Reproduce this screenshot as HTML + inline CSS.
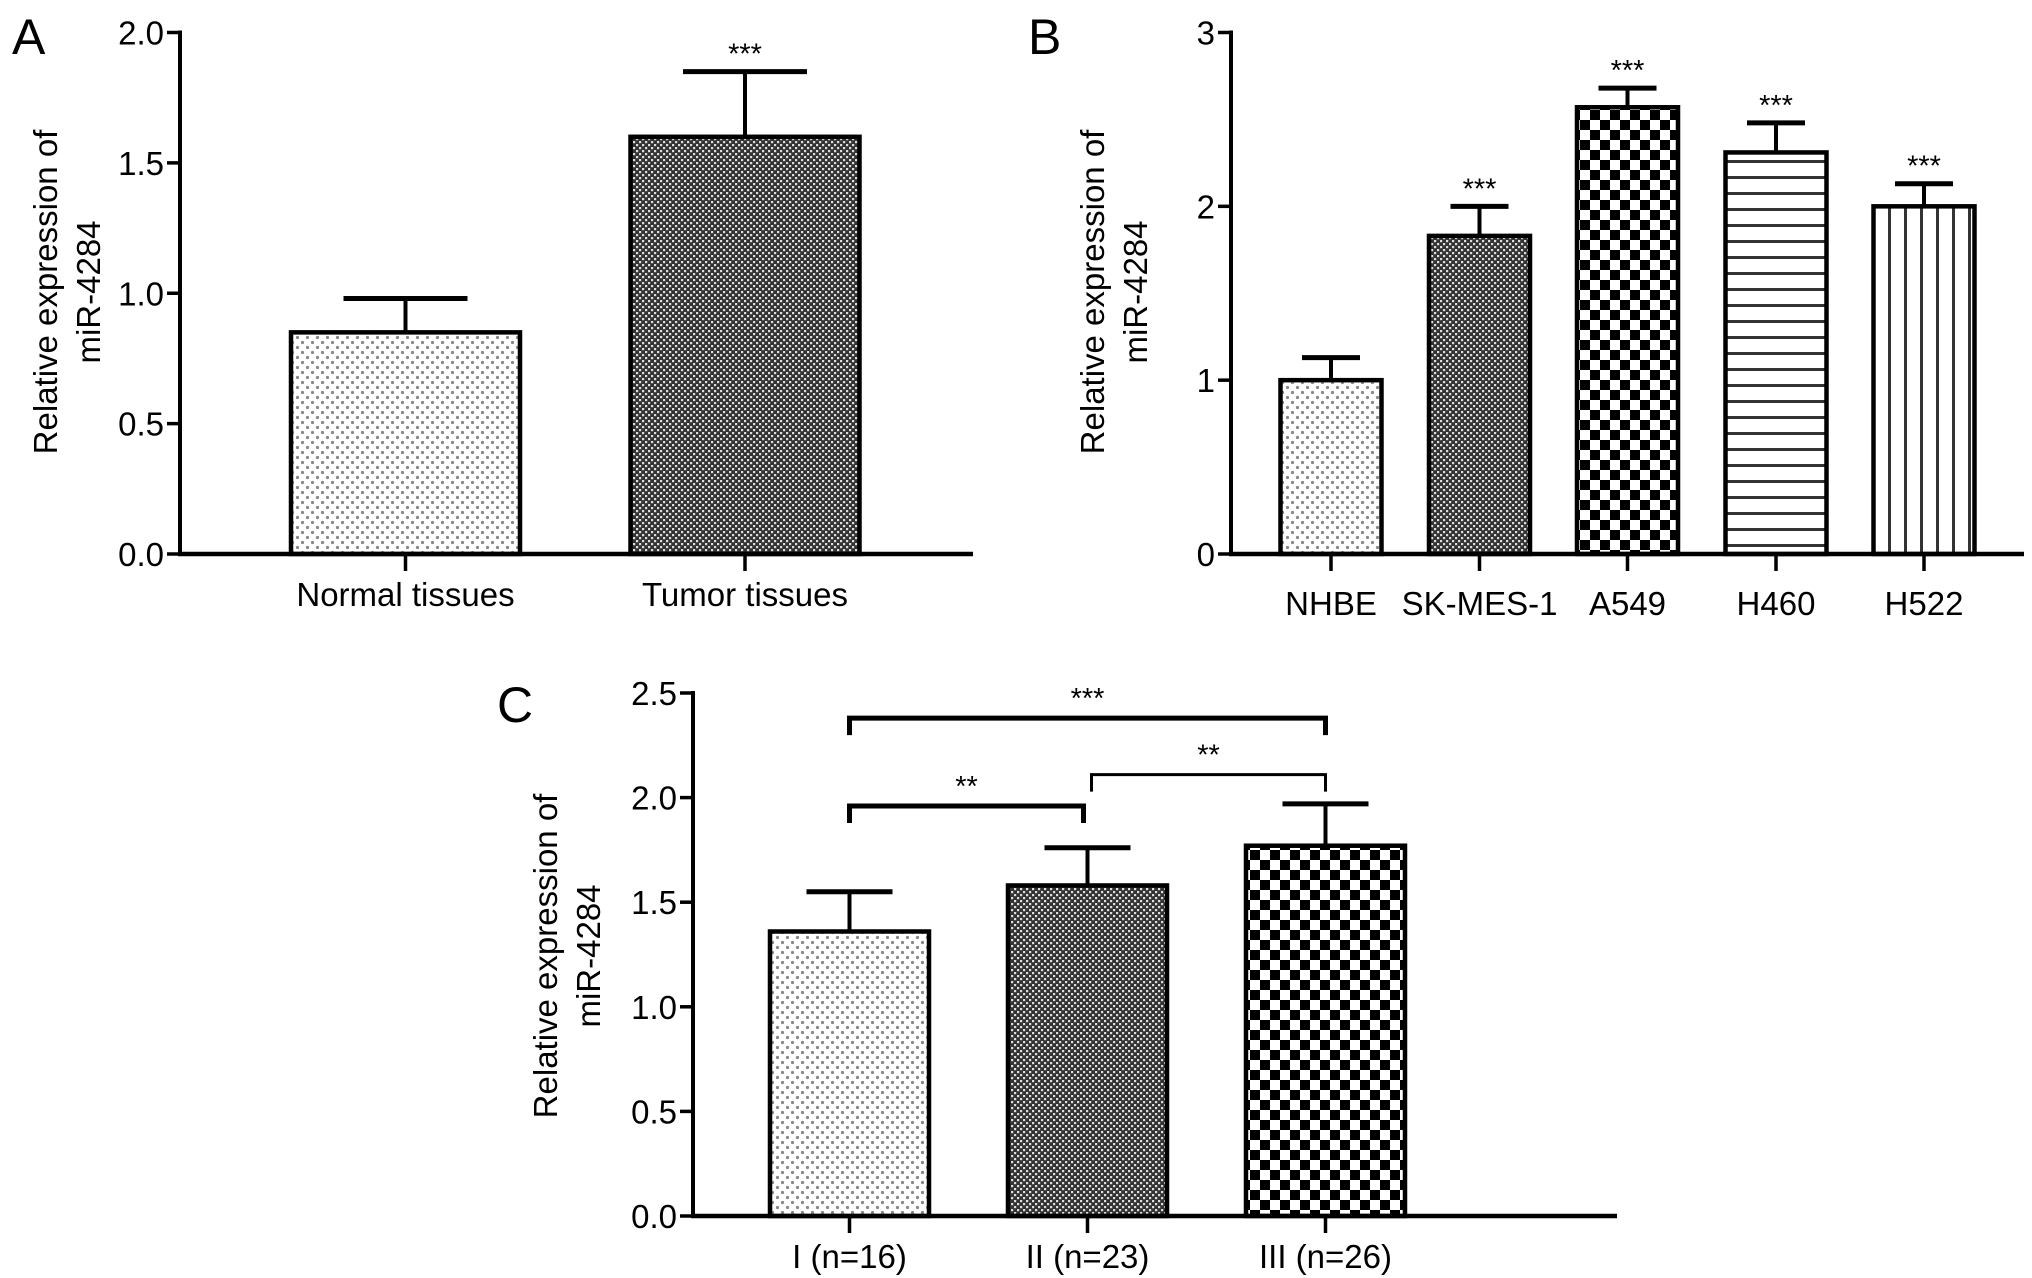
<!DOCTYPE html>
<html><head><meta charset="utf-8"><style>
body{margin:0;background:#fff;overflow:hidden;}
svg{display:block;font-family:"Liberation Sans",Arial,sans-serif;}
</style></head><body>
<svg id="fig" width="2032" height="1278" viewBox="0 0 2032 1278" xmlns="http://www.w3.org/2000/svg">
<defs>
<pattern id="p-dots" width="10" height="10" patternUnits="userSpaceOnUse">
<rect width="10" height="10" fill="#fff"/><circle cx="2.5" cy="2.5" r="1.6" fill="#888"/><circle cx="7.5" cy="7.5" r="1.6" fill="#888"/></pattern>
<pattern id="p-fine" width="6" height="6" patternUnits="userSpaceOnUse">
<rect width="6" height="6" fill="#333"/><rect x="0" y="0" width="2.2" height="2.2" fill="#ddd"/><rect x="3" y="3" width="2.2" height="2.2" fill="#ddd"/></pattern>
<pattern id="p-check" width="20" height="20" patternUnits="userSpaceOnUse">
<rect width="20" height="20" fill="#fff"/><rect width="10" height="10" fill="#000"/><rect x="10" y="10" width="10" height="10" fill="#000"/></pattern>
<pattern id="p-hstripe" width="16" height="16" patternUnits="userSpaceOnUse">
<rect width="16" height="16" fill="#fff"/><rect y="0" width="16" height="3" fill="#333"/></pattern>
<pattern id="p-vstripe" width="16" height="16" patternUnits="userSpaceOnUse">
<rect width="16" height="16" fill="#fff"/><rect x="0" width="3" height="16" fill="#333"/></pattern>
</defs>
</svg>
<script>
// Panel A data
const catsA = ["Normal tissues","Tumor tissues"];
const valsA = [0.85, 1.6];
const errsA = [0.98, 1.85];
const sigA = ["", "***"];
const ticksA = ["0.0","0.5","1.0","1.5","2.0"];
// Panel B data
const catsB = ["NHBE","SK-MES-1","A549","H460","H522"];
const valsB = [1.0, 1.83, 2.57, 2.31, 2.0];
const errsB = [1.13, 2.0, 2.68, 2.48, 2.13];
const sigB = ["", "***","***","***","***"];
const ticksB = ["0","1","2","3"];
// Panel C data
const catsC = ["I (n=16)","II (n=23)","III (n=26)"];
const valsC = [1.36, 1.58, 1.77];
const errsC = [1.55, 1.76, 1.97];
const ticksC = ["0.0","0.5","1.0","1.5","2.0","2.5"];
const bracketFrom = [0, 1, 0];
const bracketTo = [1, 2, 2];
const bracketLevel = [1.96, 2.11, 2.38];
const bracketLabel = ["**","**","***"];

const NS="http://www.w3.org/2000/svg";
const svg=document.getElementById('fig');
function mk(tag,attrs,parent,text){const e=document.createElementNS(NS,tag);for(const k in attrs)e.setAttribute(k,attrs[k]);if(text!==undefined)e.textContent=text;(parent||svg).appendChild(e);return e;}

function panel(cfg){
  const g=mk('g',{});
  
  
  const y=v=>cfg.y0-(v/cfg.max)*(cfg.y0-cfg.yTop);
  const L=mk('text',{x:cfg.letterX,y:cfg.letterY,'font-size':50},g,cfg.letter);
  
  
  const t=mk('text',{transform:`translate(${cfg.titleX},${cfg.titleY}) rotate(-90)`,'text-anchor':'middle','font-size':33},g);
  
  
  mk('tspan',{x:0,dy:0},t,'Relative expression of');
  mk('tspan',{x:0,dy:43},t,'miR-4284');
  cfg.cats.forEach((c,i)=>{
    const cx=cfg.centers[i];
    const top=y(cfg.vals[i]);
    const et=y(cfg.errs[i]);
    const eb=mk('line',{x1:cx,x2:cx,y1:top,y2:et,stroke:'#000','stroke-width':4},g);
    
    
    const cap=mk('line',{x1:cx-cfg.cap,x2:cx+cfg.cap,y1:et,y2:et,stroke:'#000','stroke-width':5},g);
    
    
    const b=mk('rect',{x:cx-cfg.bw/2,y:top,width:cfg.bw,height:cfg.y0-top,fill:`url(#${cfg.fills[i]})`,stroke:'#000','stroke-width':4.5},g);
    
    
    if(cfg.sig&&cfg.sig[i]){const s=mk('text',{x:cx,y:et-8,'text-anchor':'middle','font-size':29},g,cfg.sig[i]);
      
      }
    const tk=mk('line',{x1:cx,x2:cx,y1:cfg.y0,y2:cfg.y0+17,stroke:'#000','stroke-width':3.5},g);
    
    
    const lb=mk('text',{x:cx,y:cfg.y0+cfg.labOff,'text-anchor':'middle','font-size':33},g,c);
    
    
  });
  const ya=mk('line',{x1:cfg.ax,x2:cfg.ax,y1:cfg.yTop-2,y2:cfg.y0+2,stroke:'#000','stroke-width':4},g);
  
  
  const xa=mk('line',{x1:cfg.ax-2,x2:cfg.xEnd,y1:cfg.y0,y2:cfg.y0,stroke:'#000','stroke-width':4.5},g);
  
  
  cfg.ticks.forEach(tl=>{
    const v=parseFloat(tl);const ty=y(v);
    const tk=mk('line',{x1:cfg.ax-13,x2:cfg.ax,y1:ty,y2:ty,stroke:'#000','stroke-width':3.5},g);
    
    
    const tt=mk('text',{x:cfg.ax-16,y:ty+12,'text-anchor':'end','font-size':33},g,tl);
    
    
  });
  return {g,y};
}

panel({name:'panel-a',letter:'A',letterX:12,letterY:54,titleX:57,titleY:292,ax:180,xEnd:973,y0:554,yTop:32.5,max:2,
  cats:catsA,vals:valsA,errs:errsA,sig:sigA,ticks:ticksA,centers:[405.5,745],bw:229,cap:62,labOff:52,fills:['p-dots','p-fine']});
panel({name:'panel-b',letter:'B',letterX:1028,letterY:54,titleX:1104,titleY:292,ax:1231,xEnd:2024,y0:554,yTop:32.5,max:3,
  cats:catsB,vals:valsB,errs:errsB,sig:sigB,ticks:ticksB,centers:[1331,1479.5,1627.5,1776,1924],bw:101,cap:29,labOff:61,fills:['p-dots','p-fine','p-check','p-hstripe','p-vstripe']});
const centersC=[849.5,1087.5,1325.5];
const pc=panel({name:'panel-c',letter:'C',letterX:497,letterY:722,titleX:557,titleY:956,ax:693,xEnd:1617,y0:1216,yTop:693,max:2.5,
  cats:catsC,vals:valsC,errs:errsC,sig:null,ticks:ticksC,centers:centersC,bw:159,cap:43,labOff:52,fills:['p-dots','p-fine','p-check']});
bracketLevel.forEach((lv,i)=>{
  const by=pc.y(lv);const x1=centersC[bracketFrom[i]]+(i==1?4:0);const x2=centersC[bracketTo[i]]-(i==0?4:0);
  const sw=i==1?3:5;
  const p=mk('path',{d:`M${x1},${by+17} V${by} H${x2} V${by+17}`,fill:'none',stroke:'#000','stroke-width':sw},pc.g);
  
  
  const s=mk('text',{x:(x1+x2)/2,y:by-10,'text-anchor':'middle','font-size':29},pc.g,bracketLabel[i]);
  
  
});
</script>
</body></html>
